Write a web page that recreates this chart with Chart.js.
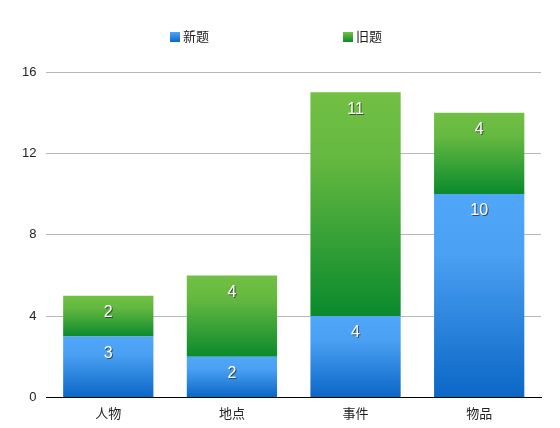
<!DOCTYPE html>
<html>
<head>
<meta charset="utf-8">
<script src="https://cdn.jsdelivr.net/npm/chart.js@4/dist/chart.umd.min.js"></script>
<style>
  html, body { margin: 0; padding: 0; background: #fff; }
  #wrap { width: 560px; height: 428px; }
</style>
</head>
<body>
<div id="wrap"><canvas id="c"></canvas></div>
<script>
const categories = ["人物", "地点", "事件", "物品"];
const newItems = [3, 2, 4, 10];
const oldItems = [2, 4, 11, 4];
const yTicks = [0, 4, 8, 12, 16];

const FONT = "Arial, 'Liberation Sans', 'Noto Sans CJK SC', sans-serif";
const BLUE = ["#50a6f8", "#4aa0f2", "#0b66c6"];
const GREEN = ["#72c044", "#64b840", "#0a8a2c"];

// vertical gradient over each stacked segment
function segFill(stops, dsIndex) {
  return (ctx) => {
    const chart = ctx.chart;
    const y = chart.scales && chart.scales.y;
    if (!chart.chartArea || !y || ctx.type !== "data") return stops[1];
    let base = 0;
    for (let d = 0; d < dsIndex; d++) base += chart.data.datasets[d].data[ctx.dataIndex];
    const top = base + chart.data.datasets[dsIndex].data[ctx.dataIndex];
    const y0 = y.getPixelForValue(top), y1 = y.getPixelForValue(base);
    if (!isFinite(y0) || !isFinite(y1) || y0 === y1) return stops[1];
    const g = chart.ctx.createLinearGradient(0, y0, 0, y1);
    g.addColorStop(0, stops[0]);
    g.addColorStop(0.3, stops[1]);
    g.addColorStop(1, stops[2]);
    return g;
  };
}

const valueLabels = {
  id: "valueLabels",
  afterDatasetsDraw(chart) {
    const c = chart.ctx;
    c.save();
    c.font = "16px " + FONT;
    c.textAlign = "center";
    c.textBaseline = "middle";
    chart.data.datasets.forEach((ds, i) => {
      chart.getDatasetMeta(i).data.forEach((bar, j) => {
        const txt = String(ds.data[j]);
        const ty = bar.y + 17;
        c.fillStyle = "rgba(50,50,50,0.8)";
        c.fillText(txt, bar.x + 1, ty + 1);
        c.fillStyle = "#ffffff";
        c.fillText(txt, bar.x, ty);
      });
    });
    c.restore();
  }
};

// top legend, items spread like the original
const topLegend = {
  id: "topLegend",
  afterDraw(chart) {
    const c = chart.ctx;
    const xs = [170, 343];
    const fills = [BLUE, GREEN];
    c.save();
    c.font = "13px " + FONT;
    c.textBaseline = "middle";
    chart.data.datasets.forEach((ds, i) => {
      const g = c.createLinearGradient(0, 32, 0, 42);
      g.addColorStop(0, fills[i][0]);
      g.addColorStop(1, fills[i][2]);
      c.fillStyle = g;
      c.fillRect(xs[i], 32, 10, 10);
      c.fillStyle = "#222";
      c.fillText(ds.label, xs[i] + 13, 37);
    });
    c.restore();
  }
};

new Chart(document.getElementById("c"), {
  type: "bar",
  data: {
    labels: categories,
    datasets: [
      { label: "新题", data: newItems, backgroundColor: segFill(BLUE, 0), borderWidth: 0, categoryPercentage: 0.73, barPercentage: 1 },
      { label: "旧题", data: oldItems, backgroundColor: segFill(GREEN, 1), borderWidth: 0, categoryPercentage: 0.73, barPercentage: 1 }
    ]
  },
  options: {
    responsive: true,
    maintainAspectRatio: false,
    animation: false,
    layout: { padding: { left: 12, right: 19, top: 72, bottom: 5 } },
    plugins: {
      tooltip: { enabled: false },
      legend: { display: false }
    },
    scales: {
      x: {
        stacked: true,
        grid: { display: false },
        border: { display: true, color: "#000", width: 1 },
        ticks: { font: { family: FONT, size: 13 }, color: "#222", padding: 1 }
      },
      y: {
        stacked: true,
        min: 0,
        max: 16,
        afterBuildTicks: (ax) => { ax.ticks = yTicks.map((v) => ({ value: v })); },
        grid: { color: "#b7b7b7", drawTicks: false },
        border: { display: false },
        ticks: { font: { family: FONT, size: 13 }, color: "#222", padding: 10 }
      }
    }
  },
  plugins: [valueLabels, topLegend]
});
</script>
</body>
</html>
